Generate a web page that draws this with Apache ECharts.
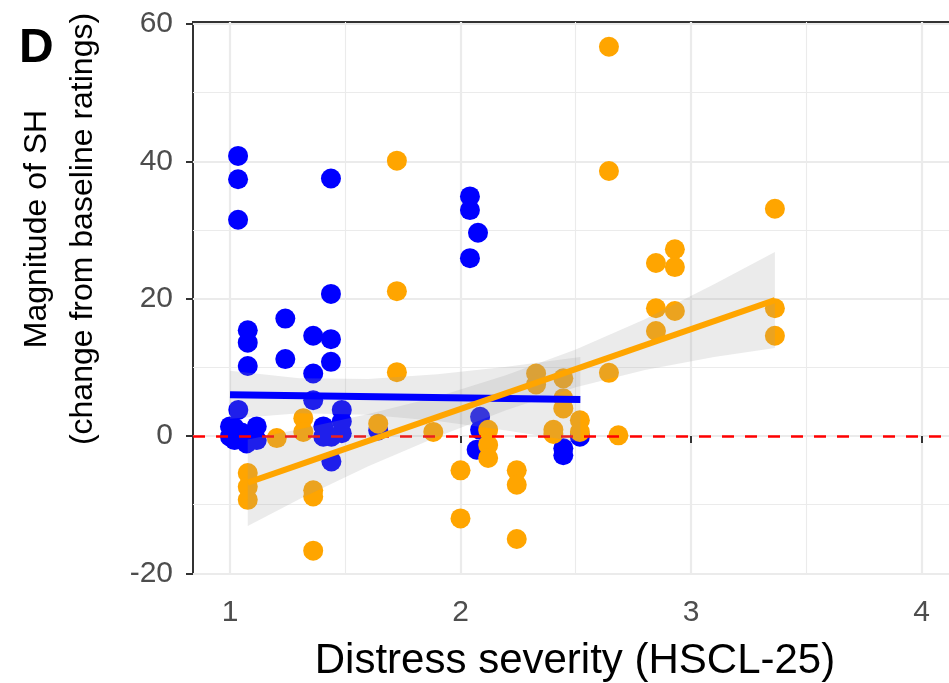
<!DOCTYPE html>
<html><head><meta charset="utf-8">
<script src="https://cdn.jsdelivr.net/npm/echarts@6/dist/echarts.min.js"></script>
<style>html,body{margin:0;padding:0;background:#fff}#c{width:949px;height:683px}</style>
</head><body><div id="c"></div>
<script>
// ---- data ----
const blueX = [1.035,1.035,1.035,1.438,1.438,2.041,2.041,2.076,2.041,1.077,1.077,1.077,1.24,1.24,1.361,1.438,1.438,1.361,1.361,1.036,1.0,1.0,1.02,1.02,1.05,1.072,1.116,1.116,1.1,1.405,1.405,1.485,1.485,1.485,1.44,1.44,1.643,2.085,2.085,2.07,2.446,2.446,2.518];
const blueY = [40.8,37.4,31.5,37.5,20.7,34.9,32.9,29.6,25.9,15.4,13.6,10.2,17.1,11.2,14.6,14.1,10.8,9.1,5.2,3.8,1.4,-0.1,1.2,-0.6,0.5,-1.1,1.4,-0.6,0.3,1.4,-0.1,3.8,2.1,0.4,-0.1,-3.7,0.8,2.8,0.9,-2.0,-1.8,-2.8,-0.1];
const orangeX = [2.644,2.644,1.724,1.724,1.724,3.364,3.364,3.364,2.848,2.93,2.93,2.848,2.93,2.848,2.644,2.328,2.328,2.446,2.446,2.446,2.403,2.403,2.518,2.518,2.685,1.882,2.12,2.12,2.12,2.0,2.0,2.244,2.244,2.244,1.318,1.318,1.203,1.077,1.077,1.077,1.361,1.361,1.361,1.643];
const orangeY = [56.7,38.6,40.1,21.1,9.3,33.1,18.6,14.6,25.2,27.2,24.6,18.6,18.2,15.3,9.2,9.1,7.5,8.4,5.5,4.0,0.9,0.3,2.3,0.6,0.1,0.6,0.9,-1.3,-3.2,-5.0,-12.0,-5.0,-7.1,-15.0,2.6,0.6,-0.3,-5.4,-7.4,-9.3,-7.9,-8.8,-16.7,1.8];
// fitted lines
const blueFitX = [1.0, 2.52];
const blueFitY = [6.0, 5.3];
const orangeFitX = [1.077, 3.364];
const orangeFitY = [-6.8, 19.8];
// confidence bands
const blueBandX = [1.0, 1.3, 1.6, 1.9, 2.2, 2.52];
const blueBandLo = [2.5, 3.3, 3.1, 2.2, 0.8, -0.9];
const blueBandHi = [9.5, 8.4, 8.3, 9.0, 10.1, 11.5];
const orangeBandX = [1.077, 1.3, 1.6, 1.9, 2.2, 2.5, 2.8, 3.1, 3.364];
const orangeBandLo = [-13.1, -9.2, -4.4, -0.1, 3.8, 7.1, 9.6, 11.5, 12.8];
const orangeBandHi = [-0.5, 1.0, 3.2, 5.7, 8.9, 12.6, 17.0, 22.1, 26.8];
// ticks
const xTicks = [1, 2, 3, 4];
const xMinor = [1.5, 2.5, 3.5];
const yTicks = [-20, 0, 20, 40, 60];
const yMinor = [-10, 10, 30, 50];
const refLineY = 0;

const zip = (xs, ys) => xs.map((x, i) => [x, ys[i]]);

function ribbon(xs, lo, hi) {
  const data = xs.map((x, i) => [x, lo[i], hi[i]]);
  return {
    type: 'custom', data: data, z: 3, silent: true, clip: true,
    encode: {x: 0, y: [1, 2]},
    renderItem: function (params, api) {
      if (params.dataIndex !== 0) return null;
      const pts = [];
      for (let i = 0; i < data.length; i++) pts.push(api.coord([data[i][0], data[i][2]]));
      for (let i = data.length - 1; i >= 0; i--) pts.push(api.coord([data[i][0], data[i][1]]));
      return {type: 'polygon', shape: {points: pts}, style: {fill: 'rgba(153,153,153,0.2)'}};
    }
  };
}

const XMIN = 0.8395, XMAX = 4.154, YMIN = -20.1, YMAX = 60.3;
const gridC = '#EBEBEB';
const chart = echarts.init(document.getElementById('c'), null, {renderer: 'canvas'});
chart.setOption({
  animation: false,
  backgroundColor: '#fff',
  grid: {left: 193, top: 22, right: -8, bottom: 109, show: true, borderColor: '#333', borderWidth: 2, containLabel: false, outerBoundsMode: 'none'},
  xAxis: [
    {type: 'value', min: XMIN, max: XMAX, position: 'bottom',
     axisLine: {show: false},
     axisTick: {show: true, customValues: xTicks, length: 7, lineStyle: {color: '#333', width: 2}},
     axisLabel: {customValues: xTicks, color: '#4D4D4D', fontSize: 30, fontFamily: 'Liberation Sans, Arial', margin: 24},
     splitLine: {show: true, lineStyle: {color: gridC, width: 2.2}}},
    {type: 'value', min: XMIN, max: XMAX, position: 'bottom',
     axisLine: {show: false}, axisLabel: {show: false},
     axisTick: {show: false, customValues: xMinor},
     splitLine: {show: true, lineStyle: {color: gridC, width: 1.1}}}
  ],
  yAxis: [
    {type: 'value', min: YMIN, max: YMAX, position: 'left',
     axisLine: {show: false},
     axisTick: {show: true, customValues: yTicks, length: 7, lineStyle: {color: '#333', width: 2}},
     axisLabel: {customValues: yTicks, color: '#4D4D4D', fontSize: 30, fontFamily: 'Liberation Sans, Arial', margin: 20},
     splitLine: {show: true, lineStyle: {color: gridC, width: 2.2}}},
    {type: 'value', min: YMIN, max: YMAX, position: 'left',
     axisLine: {show: false}, axisLabel: {show: false},
     axisTick: {show: false, customValues: yMinor},
     splitLine: {show: true, lineStyle: {color: gridC, width: 1.1}}}
  ],
  series: [
    {type: 'scatter', name: 'blue', data: zip(blueX, blueY), symbol: 'circle', symbolSize: 20, z: 2,
     itemStyle: {color: '#0000FF', opacity: 1}},
    {type: 'scatter', name: 'orange', data: zip(orangeX, orangeY), symbol: 'circle', symbolSize: 20, z: 2,
     itemStyle: {color: '#FFA500', opacity: 1}},
    ribbon(blueBandX, blueBandLo, blueBandHi),
    ribbon(orangeBandX, orangeBandLo, orangeBandHi),
    {type: 'line', data: zip(blueFitX, blueFitY), symbol: 'none', z: 4,
     lineStyle: {color: '#0000FF', width: 7}},
    {type: 'line', data: zip(orangeFitX, orangeFitY), symbol: 'none', z: 4,
     lineStyle: {color: '#FFA500', width: 6}},
    {type: 'line', data: [], z: 3,
     markLine: {silent: true, symbol: 'none', label: {show: false}, z: 3,
       lineStyle: {color: '#FF0000', width: 2.5, type: [12, 11]},
       data: [{yAxis: refLineY}]}}
  ],
  graphic: [
    {type: 'text', left: 19, top: 25, style: {text: 'D', font: 'bold 48px "Liberation Sans", Arial', fill: '#000'}},
    {type: 'text', x: 37, y: 229, rotation: Math.PI / 2,
     style: {text: 'Magnitude of SH', font: '32px "Liberation Sans", Arial', fill: '#000', textAlign: 'center', textVerticalAlign: 'middle'}},
    {type: 'text', x: 83, y: 229, rotation: Math.PI / 2,
     style: {text: '(change from baseline ratings)', font: '32px "Liberation Sans", Arial', fill: '#000', textAlign: 'center', textVerticalAlign: 'middle'}},
    {type: 'text', x: 575, y: 661,
     style: {text: 'Distress severity (HSCL-25)', font: '42px "Liberation Sans", Arial', fill: '#000', textAlign: 'center', textVerticalAlign: 'middle'}}
  ]
});
</script></body></html>
